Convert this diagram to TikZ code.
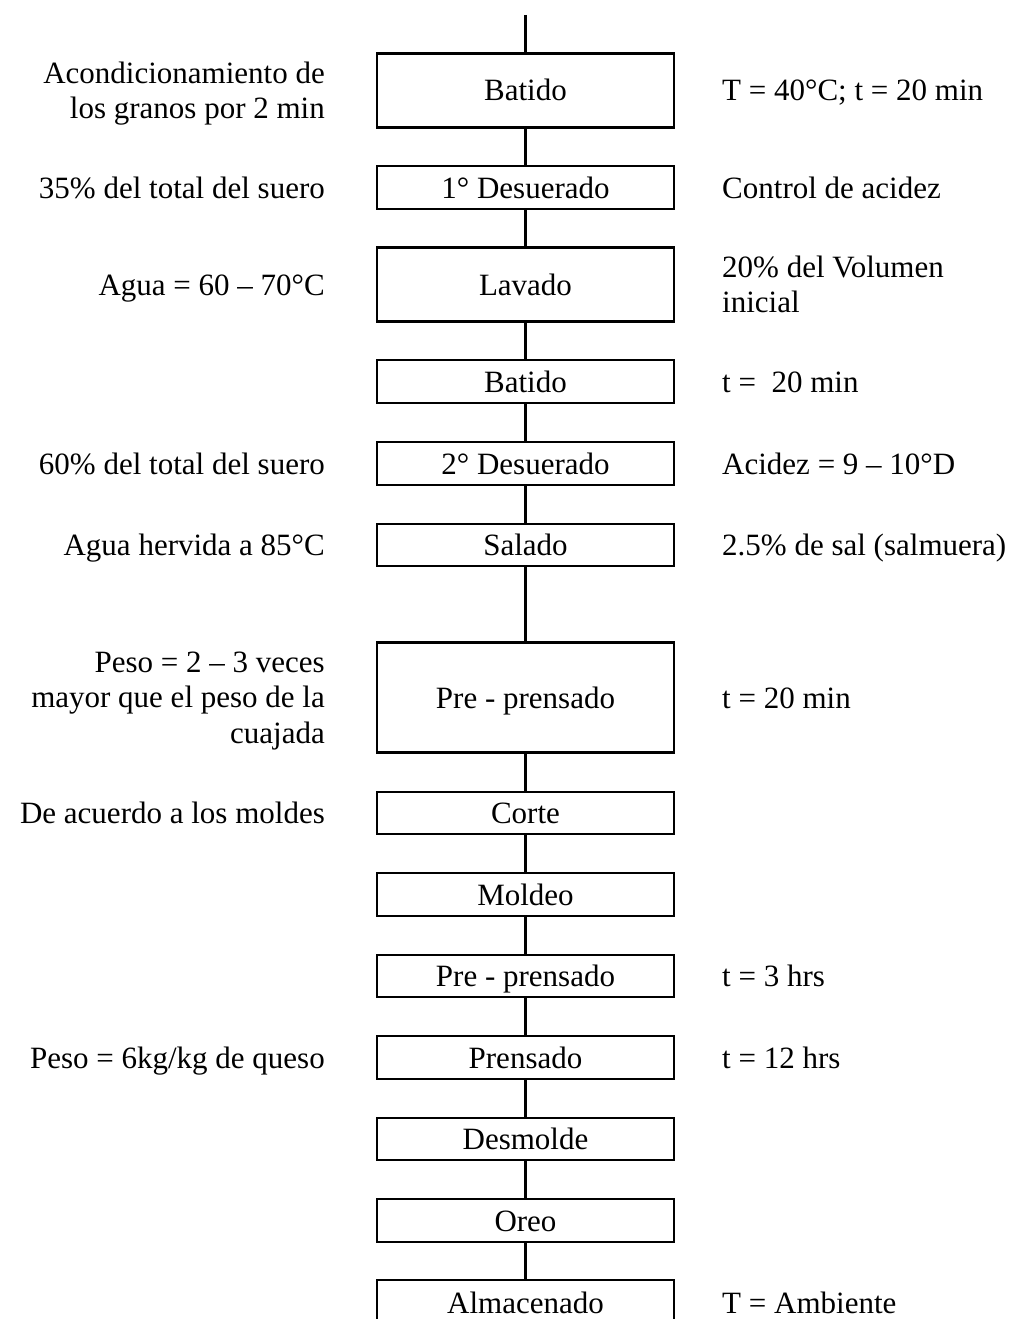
\documentclass[tikz,border=0pt]{standalone}
\usepackage{fontspec}
\setmainfont{Liberation Serif}
\begin{document}
\begin{tikzpicture}[x=1pt,y=-1pt,
  every node/.style={font=\fontsize{31}{35.5}\selectfont, inner sep=0pt},
  proc/.style={draw, line width=2.1pt, minimum width=297pt, text height=21pt, text depth=0pt},
  smallbox/.style={proc, minimum height=42.5pt},
  bigbox/.style={proc, minimum height=74pt},
  lbl/.style={anchor=east, text height=21pt, text depth=0pt},
  rbl/.style={anchor=west, text height=21pt, text depth=0pt},
  lblm/.style={anchor=east, align=right},
  rblm/.style={anchor=west, align=left},
  conn/.style={line width=2.1pt}]
\clip (0,0) rectangle (1019,1319);
\fill[white] (0,0) rectangle (1019,1319);

% process boxes
\node[bigbox]   (b1)  at (525.5,90.5)  {Batido};
\node[smallbox] (b2)  at (525.5,187.5) {1° Desuerado};
\node[bigbox]   (b3)  at (525.5,284.5) {Lavado};
\node[smallbox] (b4)  at (525.5,381.5) {Batido};
\node[smallbox] (b5)  at (525.5,463.5) {2° Desuerado};
\node[smallbox] (b6)  at (525.5,545)   {Salado};
\node[proc, minimum height=110pt] (b7) at (525.5,697.5) {Pre - prensado};
\node[smallbox] (b8)  at (525.5,813)   {Corte};
\node[smallbox] (b9)  at (525.5,894.5) {Moldeo};
\node[smallbox] (b10) at (525.5,976)   {Pre - prensado};
\node[smallbox] (b11) at (525.5,1057.5){Prensado};
\node[smallbox] (b12) at (525.5,1139)  {Desmolde};
\node[smallbox] (b13) at (525.5,1220.5){Oreo};
\node[proc, minimum height=45pt] (b14) at (525.5,1302.5) {Almacenado};

% connectors
\coordinate (top) at (525.5,15);
\draw[conn] (top) -- (b1.north);
\draw[conn] (b1.south) -- (b2.north);
\draw[conn] (b2.south) -- (b3.north);
\draw[conn] (b3.south) -- (b4.north);
\draw[conn] (b4.south) -- (b5.north);
\draw[conn] (b5.south) -- (b6.north);
\draw[conn] (b6.south) -- (b7.north);
\draw[conn] (b7.south) -- (b8.north);
\draw[conn] (b8.south) -- (b9.north);
\draw[conn] (b9.south) -- (b10.north);
\draw[conn] (b10.south) -- (b11.north);
\draw[conn] (b11.south) -- (b12.north);
\draw[conn] (b12.south) -- (b13.north);
\draw[conn] (b13.south) -- (b14.north);

% left labels
\node[lblm] (l1)  at (325,93.75)  {Acondicionamiento de\\los granos por 2 min};
\node[lbl]  (l2)  at (325,187.5)  {35\% del total del suero};
\node[lbl]  (l3)  at (325,284.5)  {Agua = 60 – 70°C};
\node[lbl]  (l5)  at (325,463.5)  {60\% del total del suero};
\node[lbl]  (l6)  at (325,545)    {Agua hervida a 85°C};
\node[lblm] (l7)  at (325,701)    {Peso = 2 – 3 veces\\mayor que el peso de la\\cuajada};
\node[lbl]  (l8)  at (325,813)    {De acuerdo a los moldes};
\node[lbl]  (l11) at (325,1057.5) {Peso = 6kg/kg de queso};

% right labels
\node[rbl]  (r1)  at (722,90.5)   {T = 40°C; t = 20 min};
\node[rbl]  (r2)  at (722,187.5)  {Control de acidez};
\node[rblm] (r3)  at (722,284.4)  {20\% del Volumen\\inicial};
\node[rbl]  (r4)  at (722,381.5)  {t =\ \ 20 min};
\node[rbl]  (r5)  at (722,463.5)  {Acidez = 9 – 10°D};
\node[rbl]  (r6)  at (722,545)    {2.5\% de sal (salmuera)};
\node[rbl]  (r7)  at (722,697.5)  {t = 20 min};
\node[rbl]  (r10) at (722,976)    {t = 3 hrs};
\node[rbl]  (r11) at (722,1057.5) {t = 12 hrs};
\node[rbl]  (r14) at (722,1302.5) {T = Ambiente};
\end{tikzpicture}
\end{document}
